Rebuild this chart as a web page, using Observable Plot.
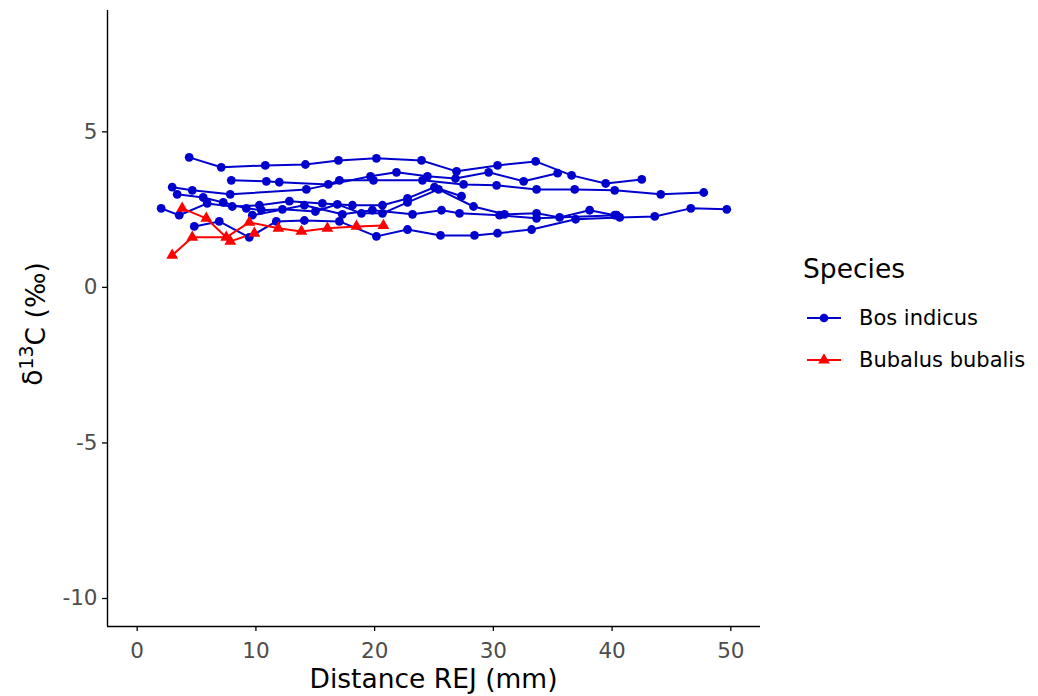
<!DOCTYPE html>
<html>
<head>
<meta charset="utf-8">
<script src="https://cdn.jsdelivr.net/npm/d3@7"></script>
<script src="https://cdn.jsdelivr.net/npm/@observablehq/plot@0.6"></script>
<style>
  body { margin: 0; background: #fff; font-family: "DejaVu Sans", sans-serif; }
  #wrap { position: relative; width: 1038px; height: 696px; }
  #wrap svg.plot [aria-label="x-axis tick label"], #wrap svg.plot [aria-label="y-axis tick label"] { fill: #4d4d4d; }
  .leg { position: absolute; font-family: "DejaVu Sans", sans-serif; color: #000; white-space: nowrap; line-height: 1; }
</style>
</head>
<body>
<div id="wrap"></div>
<script>
// ---- data ----
const speciesNames = ["Bos indicus", "Bubalus bubalis"];
const speciesColors = ["#0000CD", "#FF0000"];
const speciesSymbols = ["circle", "triangle"];
const xTicks = [0, 10, 20, 30, 40, 50];
const yTicks = [-10, -5, 0, 5];
const xLimits = [0, 50];
const yLimits = [-10, 8];

// Bos indicus specimens (distance REJ mm, d13C permil)
const bos1Dist = [4.38, 7.08, 10.79, 14.17, 16.95, 20.15, 23.95, 26.90, 30.35, 33.56, 36.59, 39.46, 42.50];
const bos1C    = [4.18, 3.86, 3.92, 3.95, 4.08, 4.15, 4.08, 3.73, 3.92, 4.05, 3.60, 3.34, 3.47];

const bos2Dist = [7.93, 10.88, 11.97, 16.10, 17.03, 19.90, 24.03, 27.49, 30.27, 33.64, 36.85, 40.22, 44.10, 47.72];
const bos2C    = [3.44, 3.41, 3.38, 3.31, 3.44, 3.44, 3.44, 3.31, 3.28, 3.15, 3.15, 3.12, 2.99, 3.05];

const bos3Dist = [2.95, 4.64, 7.84, 14.25, 19.65, 21.84, 24.45, 26.81, 29.60, 32.55, 35.41];
const bos3C    = [3.22, 3.12, 2.99, 3.15, 3.57, 3.70, 3.57, 3.50, 3.70, 3.41, 3.67];

const bos4Dist = [2.02, 3.54, 5.90, 8.01, 10.29, 12.82, 15.60, 18.13, 20.66, 22.77, 25.04, 27.32];
const bos4C    = [2.54, 2.32, 2.70, 2.60, 2.64, 2.77, 2.70, 2.64, 2.64, 2.86, 3.22, 2.93];

const bos5Dist = [3.37, 5.56, 7.25, 9.19, 10.46, 12.23, 15.01, 16.86, 18.89, 20.66, 22.77, 25.38, 28.33, 30.94, 33.64, 35.58, 38.11, 40.22];
const bos5C    = [2.99, 2.89, 2.73, 2.54, 2.48, 2.51, 2.44, 2.67, 2.38, 2.38, 2.73, 3.15, 2.60, 2.35, 2.38, 2.25, 2.48, 2.32];

const bos6Dist = [9.70, 14.08, 17.28, 19.81, 23.19, 25.63, 27.15, 30.52, 33.64, 40.39];
const bos6C    = [2.32, 2.64, 2.35, 2.48, 2.35, 2.48, 2.38, 2.32, 2.22, 2.32];

const bos7Dist = [4.81, 6.91, 9.44, 11.72, 14.08, 17.03, 20.15, 22.77, 25.55, 28.41, 30.35, 33.22, 36.93, 40.64, 43.59, 46.63, 49.66];
const bos7C    = [1.96, 2.12, 1.61, 2.12, 2.15, 2.12, 1.64, 1.86, 1.67, 1.67, 1.74, 1.86, 2.19, 2.25, 2.28, 2.54, 2.51];

// Bubalus bubalis specimens
const bub1Dist = [2.95, 4.64, 7.50, 9.44, 11.89, 13.83, 16.02, 18.47, 20.74];
const bub1C    = [1.03, 1.61, 1.61, 2.09, 1.90, 1.80, 1.90, 1.96, 1.99];

const bub2Dist = [3.79, 5.82, 7.84, 9.87];
const bub2C    = [2.54, 2.22, 1.48, 1.74];

const specimens = [
  { id: "B1", species: "Bos indicus", dist: bos1Dist, c: bos1C },
  { id: "B2", species: "Bos indicus", dist: bos2Dist, c: bos2C },
  { id: "B3", species: "Bos indicus", dist: bos3Dist, c: bos3C },
  { id: "B4", species: "Bos indicus", dist: bos4Dist, c: bos4C },
  { id: "B5", species: "Bos indicus", dist: bos5Dist, c: bos5C },
  { id: "B6", species: "Bos indicus", dist: bos6Dist, c: bos6C },
  { id: "B7", species: "Bos indicus", dist: bos7Dist, c: bos7C },
  { id: "U1", species: "Bubalus bubalis", dist: bub1Dist, c: bub1C },
  { id: "U2", species: "Bubalus bubalis", dist: bub2Dist, c: bub2C }
];

const rows = specimens.flatMap(s => s.dist.map((d, i) => ({ id: s.id, species: s.species, dist: d, d13c: s.c[i] })));

// ggplot-like 5% expansion
const xPad = (xLimits[1] - xLimits[0]) * 0.05;
const yPad = (yLimits[1] - yLimits[0]) * 0.05;
const xDomain = [xLimits[0] - xPad, xLimits[1] + xPad];
const yDomain = [yLimits[0] - yPad, yLimits[1] + yPad];

const W = 1038, H = 696;
const mL = 107, mR = 278, mT = 10, mB = 70;
const tickFont = 21.5;

const chart = Plot.plot({
  width: W, height: H,
  marginLeft: mL, marginRight: mR, marginTop: mT, marginBottom: mB,
  style: { fontFamily: "DejaVu Sans, sans-serif", fontSize: tickFont + "px", background: "#fff", color: "#000" },
  x: { domain: xDomain },
  y: { domain: yDomain },
  color: { domain: speciesNames, range: speciesColors },
  symbol: { domain: speciesNames, range: speciesSymbols },
  marks: [
    Plot.axisX({ ticks: xTicks, tickSize: 5, tickPadding: 11, tickFormat: d => String(d), label: null, fontSize: tickFont, strokeWidth: 1.3 }),
    Plot.axisY({ ticks: yTicks, tickSize: 5, tickPadding: 5, tickFormat: d => String(d), label: null, fontSize: tickFont, strokeWidth: 1.3 }),
    Plot.ruleX([xDomain[0]], { stroke: "#000", strokeWidth: 1.4 }),
    Plot.ruleY([yDomain[0]], { stroke: "#000", strokeWidth: 1.4 }),
    Plot.line(rows, { x: "dist", y: "d13c", z: "id", stroke: "species", strokeWidth: 2, curve: "linear" }),
    Plot.dot(rows, { x: "dist", y: "d13c", fill: "species", symbol: "species", r: 4.4, stroke: "none" })
  ]
});
chart.classList.add("plot");
const wrap = document.getElementById("wrap");
wrap.appendChild(chart);

// axis titles
const svg = d3.select(chart);
const cx = mL + (W - mL - mR) / 2;
const cy = mT + (H - mT - mB) / 2;
svg.append("text")
  .attr("x", cx).attr("y", 688)
  .attr("text-anchor", "middle")
  .attr("font-size", 26.5).attr("fill", "#000")
  .attr("font-family", "DejaVu Sans, sans-serif")
  .text("Distance REJ (mm)");
const yt = svg.append("text")
  .attr("transform", `translate(42,${cy + 6}) rotate(-90)`)
  .attr("text-anchor", "middle")
  .attr("font-size", 26.5).attr("fill", "#000")
  .attr("font-family", "DejaVu Sans, sans-serif");
yt.append("tspan").text("\u03B4");
yt.append("tspan").attr("dy", "-0.45em").attr("font-size", 19).text("13");
yt.append("tspan").attr("dy", "0.45em").text("C (\u2030)");

// legend (right side)
const title = document.createElement("div");
title.className = "leg";
title.style.left = "803px"; title.style.top = "256px"; title.style.fontSize = "26.5px";
title.textContent = "Species";
wrap.appendChild(title);
speciesNames.forEach((name, i) => {
  const cyRow = 318 + i * 42;
  const key = d3.create("svg").attr("width", 40).attr("height", 20)
    .style("position", "absolute").style("left", "805px").style("top", (cyRow - 10) + "px");
  key.append("line").attr("x1", 2).attr("x2", 36).attr("y1", 10).attr("y2", 10)
    .attr("stroke", speciesColors[i]).attr("stroke-width", 2);
  const sym = i === 0 ? d3.symbolCircle : d3.symbolTriangle;
  key.append("path").attr("d", d3.symbol(sym, 19 * Math.PI)()).attr("transform", "translate(19,10)")
    .attr("fill", speciesColors[i]);
  wrap.appendChild(key.node());
  const lab = document.createElement("div");
  lab.className = "leg";
  lab.style.left = "859px"; lab.style.top = (cyRow - 10) + "px"; lab.style.fontSize = "21px";
  lab.textContent = name;
  wrap.appendChild(lab);
});
</script>
</body>
</html>
